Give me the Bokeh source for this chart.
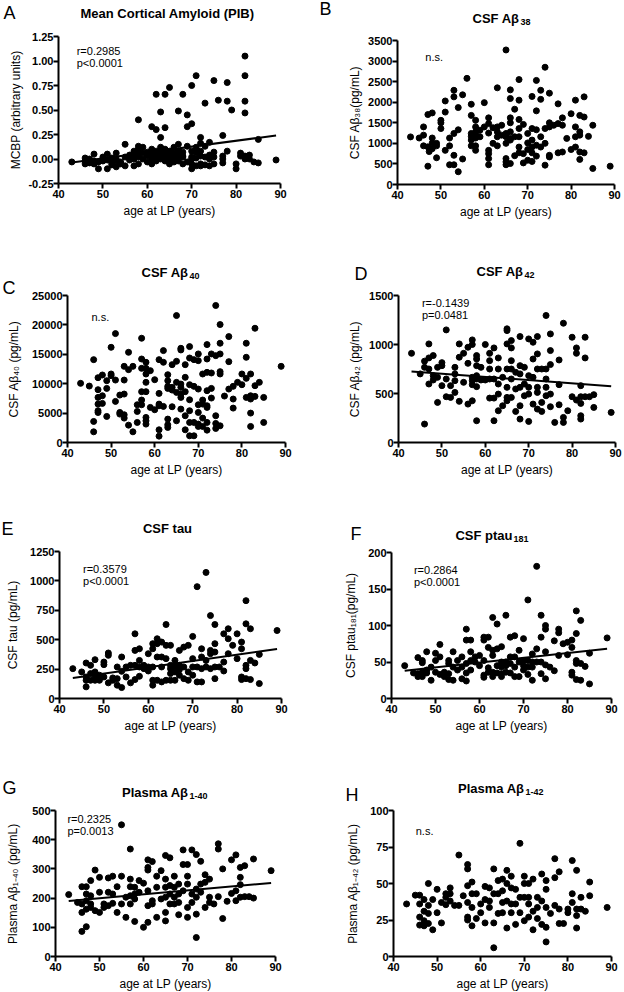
from bokeh.plotting import figure
from bokeh.layouts import column, row
from bokeh.models import Range1d, FixedTicker, NumeralTickFormatter, Label, LinearAxis
from bokeh.embed import file_html
from bokeh.resources import INLINE

FONT = "Liberation Sans"

x_ticks = [40, 50, 60, 70, 80, 90]

# ---------------- data (age at LP, value) ----------------
pib = [(82,1.05),(82,0.85),(82,0.59),(82,0.47),(71,0.85),(75,0.80),(70,0.75),(78,0.78),(65,0.73),(64,0.66),(62,0.66),(68,0.66),(76,0.60),(78,0.59),(73,0.57),(79,0.50),(67,0.49),(63,0.48),(69,0.45),(58,0.40),(70,0.36),(61,0.33),(62,0.30),(69,0.33),(64,0.32),(63,0.22),(77,0.24),(72,0.22),(85,0.20),(55,0.15),(58,0.13),(74,0.17),(67,0.15),
(43,-0.03),(46,-0.02),(46,-0.05),(46,0.01),(47,0.00),(47,-0.04),(47,-0.03),(48,0.05),(48,-0.02),(48,-0.05),(49,-0.10),(49,-0.03),(50,0.00),(50,-0.02),(50,0.02),(51,0.05),(51,-0.10),(51,-0.01),(52,-0.04),(52,0.01),(52,-0.06),(53,0.06),(53,-0.02),(53,-0.08),(53,0.00),(54,-0.03),(54,-0.05),(55,0.02),(55,-0.07),(56,0.04),(56,-0.01),(57,0.03),(57,0.08),(57,-0.07),(57,0.00),(58,0.10),(58,0.05),(58,-0.05),(58,0.02),(59,0.12),(59,0.06),(59,0.00),(60,0.03),(60,-0.03),(60,0.07),(61,0.05),(61,-0.05),(61,0.10),(61,0.00),(62,0.06),(62,0.02),(62,-0.02),(62,0.08),(63,0.12),(63,0.00),(63,0.04),(63,0.07),(64,0.10),(64,-0.02),(64,0.03),(64,0.06),(65,0.02),(65,-0.05),(65,0.08),(65,0.00),(65,0.05),(66,0.12),(66,-0.03),(66,0.01),(66,0.06),(67,0.04),(67,-0.02),(67,0.08),(67,0.00),(68,0.07),(68,-0.05),(68,0.02),(68,0.03),(69,0.13),(69,-0.03),(70,0.08),(70,-0.10),(70,0.02),(70,-0.05),(70,0.00),(71,0.07),(71,-0.07),(71,0.12),(71,0.01),(72,0.16),(72,-0.05),(72,0.08),(72,0.03),(72,-0.07),(73,-0.06),(73,0.02),(73,0.13),(74,-0.07),(74,0.04),(74,0.00),(75,-0.05),(75,0.07),(75,0.02),(77,-0.04),(77,0.03),(77,0.00),(78,0.08),(80,-0.05),(80,-0.10),(81,0.03),(81,0.06),(82,0.00),(82,0.02),(82,0.03),(83,0.04),(83,0.00),(84,-0.03),(85,-0.04),(89,-0.01)]

ab38 = [(43,1157),(45,1130),(46,1400),(46,1200),(46,940),(47,1700),(47,445),(47,915),(47.3,800),(48,1010),(48,1740),(48,1130),(48,870),(49,1000),(49,650),(49,940),(50,1560),(50,1360),(50,1500),(51,2030),(51,1760),(51,830),(52,1130),(52,480),(52,940),(53,2290),(53,2130),(53,1240),(53,710),(53,480),(54,1870),(54,1330),(54,310),(55,2180),(55,620),(56,2580),(57,1950),(57,1680),(57,1240),(57,1170),(57,1080),(57,940),(58,1560),(58,1400),(58,1280),(58,1130),(58,940),(58,830),(58,1210),(59,1320),(59,1160),(60,1990),(60,1400),(61,1620),(61,1480),(61,830),(61,630),(61,480),(61,1250),(61,750),(62,1380),(62,1000),(63,2350),(63,1160),(63,940),(63,1280),(63,1400),(64,1440),(64,1200),(65,3270),(65,1240),(65,1160),(65,630),(65,480),(65,550),(65,1000),(66,2300),(66,2090),(66,1620),(66,1500),(66,1280),(66,1120),(66,510),(66,1080),(67,1830),(67,1160),(67,700),(68,2550),(68,2050),(68,1580),(68,1360),(68,1160),(68,910),(68,770),(69,1460),(69,750),(69,525),(70,1240),(70,1010),(70,850),(70,590),(71,2140),(71,1360),(71,1080),(71,910),(71,770),(71,560),(72,2530),(72,1790),(72,1330),(72,955),(72,690),(73,2290),(73,2070),(73,1160),(73,910),(74,2850),(74,1360),(74,1000),(74,470),(75,2220),(75,1500),(75,1400),(75,710),(75,670),(76,1440),(77,1960),(77,1480),(77,770),(78,1620),(78,1440),(78,790),(79,1120),(80,1720),(80,850),(81,2050),(81,1400),(81,1160),(81,910),(82,1680),(82,1280),(82,1200),(82,610),(82,790),(83,2130),(83,1640),(83,770),(84,1170),(85,1440),(85,390),(89,445)]

ab40 = [(43,10060),(45,9600),(46,14090),(46,3580),(46,1820),(47,8980),(47,7670),(47,6530),(47,5400),(47,5100),(47,11020),(48,11480),(48,7950),(48,6650),(49,10510),(49,9200),(49,4430),(50,16190),(50,11650),(50,11360),(51,18520),(51,10620),(51,6990),(52,8070),(52,5110),(52,4830),(53,12950),(53,10620),(53,8240),(53,4720),(53,4150),(54,15340),(54,12390),(54,2950),(55,12950),(55,1820),(56,6420),(56,5280),(56,3410),(57,17730),(57,14200),(57,12610),(57,8640),(57,7220),(57,6420),(58,13640),(58,12610),(58,11650),(58,10230),(58,8640),(58,4260),(58,3690),(58,3130),(59,12220),(59,5970),(60,10680),(60,5570),(61,14090),(61,8350),(61,6530),(61,6250),(61,2160),(61,1080),(62,15630),(62,13640),(62,6140),(63,11530),(63,10510),(63,9550),(63,9200),(63,3980),(63,3010),(63,2560),(64,13240),(64,9380),(64,8920),(64,6080),(65,21590),(65,13810),(65,10230),(65,8520),(65,3690),(66,16020),(66,15740),(66,9940),(66,9380),(66,8240),(66,7670),(66,5680),(67,13240),(67,11080),(67,8640),(67,4550),(67,2160),(68,16310),(68,14370),(68,9830),(68,7270),(68,5400),(68,3410),(68,1140),(69,14090),(69,9550),(69,3410),(69,1140),(70,15060),(70,13920),(70,9090),(70,6420),(70,5110),(70,3130),(70,2730),(71,11650),(71,7220),(71,6530),(71,4150),(71,2730),(72,16650),(72,14200),(72,11930),(72,8810),(72,6250),(72,5970),(72,3410),(72,2100),(73,15060),(73,11820),(73,9200),(73,7560),(74,23300),(74,14770),(74,4550),(74,3240),(74,2390),(75,20060),(75,16880),(75,15060),(75,12050),(75,11650),(75,2840),(76,7900),(77,18010),(77,13750),(77,9090),(78,9550),(78,7390),(78,5850),(79,10230),(80,11650),(80,9830),(81,16880),(81,14490),(81,10910),(81,7670),(82,11650),(82,7950),(82,7390),(82,5000),(82,2730),(83,19430),(83,9660),(83,7840),(84,10230),(85,7670),(85,3410),(89,12950)]

ab42 = [(43,910),(45,700),(46,830),(46,767),(46,188),(47,1006),(47,863),(47,750),(47,597),(48,887),(48,682),(48,638),(49,767),(49,409),(49,665),(50,815),(50,784),(50,580),(51,1149),(51,648),(51,467),(52,580),(52,460),(53,767),(53,700),(53,631),(53,511),(54,1006),(54,870),(54,420),(55,910),(55,614),(56,972),(56,808),(56,392),(57,1047),(57,1000),(57,665),(57,631),(57,590),(57,426),(58,887),(58,852),(58,784),(58,682),(58,648),(58,570),(58,222),(59,767),(59,638),(60,1000),(60,638),(61,910),(61,835),(61,750),(61,648),(61,453),(62,965),(62,648),(62,453),(62,222),(63,863),(63,750),(63,597),(63,494),(63,324),(64,665),(64,375),(65,1160),(65,1142),(65,1006),(65,750),(65,563),(65,460),(65,426),(66,1040),(66,965),(66,835),(66,750),(66,460),(66,648),(67,716),(67,546),(67,317),(68,1081),(68,784),(68,700),(68,563),(68,375),(68,239),(69,767),(69,597),(69,477),(70,1057),(70,682),(70,563),(70,494),(70,215),(71,1023),(71,852),(71,665),(71,392),(72,1081),(72,904),(72,750),(72,563),(72,511),(72,341),(73,750),(73,409),(73,317),(74,1296),(74,750),(74,648),(74,563),(74,477),(75,1108),(75,938),(75,795),(75,494),(75,365),(76,205),(77,842),(77,590),(77,385),(78,1217),(78,256),(78,205),(79,324),(80,1074),(80,467),(81,965),(81,910),(81,433),(82,580),(82,399),(82,273),(82,239),(82,467),(83,1074),(83,863),(83,467),(84,467),(85,488),(85,358),(89,307)]

tau = [(43,254),(45,226),(46,302),(46,183),(46,99),(46,155),(47,282),(47,212),(47,155),(48,330),(48,226),(48,183),(48,155),(49,155),(49,198),(50,310),(50,288),(50,183),(51,387),(51,367),(51,133),(52,175),(52,155),(53,268),(53,169),(53,113),(54,353),(54,231),(54,93),(55,268),(55,183),(56,282),(56,133),(57,550),(57,409),(57,282),(57,161),(58,423),(58,324),(58,268),(58,189),(59,282),(59,254),(60,381),(60,268),(60,234),(61,466),(61,423),(61,268),(61,155),(61,113),(62,508),(62,466),(62,353),(62,155),(63,480),(63,353),(63,268),(63,141),(64,629),(64,452),(64,339),(64,155),(65,452),(65,282),(65,212),(65,155),(65,254),(66,324),(66,274),(66,226),(66,155),(67,409),(67,282),(67,245),(67,198),(68,437),(68,268),(68,169),(69,452),(69,226),(69,155),(70,528),(70,339),(70,268),(70,198),(71,951),(71,268),(71,141),(72,423),(72,353),(72,254),(72,141),(73,1072),(73,324),(73,268),(74,705),(74,409),(74,381),(74,254),(75,629),(75,466),(75,395),(75,169),(75,268),(76,268),(77,550),(77,310),(77,234),(78,593),(78,381),(78,508),(79,452),(80,550),(80,339),(81,480),(81,423),(81,183),(81,161),(82,832),(82,635),(82,282),(82,254),(82,169),(83,593),(83,324),(83,161),(84,302),(85,375),(85,127),(89,578)]

ptau = [(43,45),(45,35),(46,56),(46,30),(46,34),(47,52),(47,49),(47,30),(47,36),(48,64),(48,39),(48,35),(49,43),(49,25),(50,62),(50,52),(50,36),(51,74),(51,57),(51,33),(52,36),(52,30),(53,52),(53,48),(53,34),(53,26),(54,64),(54,43),(54,25),(55,52),(55,39),(56,57),(56,43),(56,27),(57,95),(57,80),(57,48),(57,35),(57,24),(58,80),(58,64),(58,52),(58,39),(59,57),(59,50),(60,59),(60,45),(61,84),(61,80),(61,52),(61,32),(61,29),(62,84),(62,70),(62,42),(62,36),(63,111),(63,66),(63,59),(63,36),(63,30),(64,102),(64,68),(64,45),(64,35),(65,71),(65,50),(65,43),(65,34),(65,30),(66,114),(66,50),(66,45),(66,36),(67,84),(67,57),(67,48),(67,35),(68,86),(68,57),(68,43),(68,30),(69,66),(69,50),(69,30),(70,82),(70,52),(70,45),(70,39),(71,135),(71,52),(71,43),(71,33),(72,61),(72,50),(72,43),(72,25),(73,181),(73,68),(73,50),(74,114),(74,84),(74,50),(74,34),(75,100),(75,95),(75,64),(75,46),(75,27),(76,43),(77,79),(77,38),(78,95),(78,90),(78,59),(79,75),(80,77),(80,60),(81,80),(81,70),(81,36),(81,32),(82,120),(82,89),(82,52),(82,48),(82,26),(83,107),(83,48),(83,25),(84,44),(85,62),(85,20),(89,83)]

pab40 = [(43,212),(45,185),(46,151),(46,86),(46,239),(46,180),(47,239),(47,214),(47,191),(47,162),(47,102),(48,260),(48,208),(48,180),(48,168),(49,296),(49,157),(50,271),(50,220),(50,151),(51,180),(51,168),(52,269),(52,220),(52,174),(53,275),(53,214),(53,182),(54,239),(54,151),(55,451),(55,275),(55,180),(56,134),(56,203),(57,368),(57,265),(57,239),(57,208),(57,180),(58,237),(58,197),(58,120),(58,214),(59,260),(59,220),(60,251),(60,100),(61,331),(61,305),(61,296),(61,225),(61,174),(61,117),(62,325),(62,191),(62,180),(63,275),(63,237),(63,134),(64,294),(64,197),(65,346),(65,265),(65,237),(65,151),(65,122),(65,203),(66,338),(66,243),(66,214),(66,180),(67,275),(67,237),(67,203),(67,180),(68,248),(68,214),(68,185),(68,143),(69,365),(69,315),(69,225),(70,315),(70,275),(70,248),(70,168),(70,134),(71,365),(71,214),(71,185),(72,349),(72,231),(72,145),(72,65),(72,203),(73,326),(73,248),(73,220),(74,280),(74,254),(74,168),(75,265),(75,203),(75,185),(76,180),(77,386),(77,368),(77,205),(78,300),(78,130),(79,189),(80,331),(80,216),(81,348),(81,225),(81,191),(82,305),(82,271),(82,246),(82,203),(83,311),(83,205),(84,205),(85,334),(85,200),(89,294)]

pab42 = [(43,36),(45,42),(46,42),(46,36),(46,27),(46,21.5),(47,39),(47,31),(47,24.5),(47,21),(48,50),(48,35),(48,29.5),(48,22.6),(49,39),(49,18.3),(50,46),(50,30),(51,37),(51,23),(52,43),(52,40.5),(52,35.5),(53,47),(53,43),(53,38),(54,35),(55,69.5),(55,35),(56,41.6),(57,63),(57,60),(57,48.5),(57,37),(57,27),(57,25),(58,51),(58,43),(58,33.6),(58,21),(59,43),(59,26),(60,30),(60,36),(61,48),(61,39),(61,23),(62,47),(62,38),(62,33.6),(63,60),(63,43),(63,23),(63,6),(64,52),(64,43),(64,29.5),(65,53),(65,45),(65,37),(65,30),(66,59),(66,50),(66,38),(66,19.5),(67,55),(67,47),(67,36),(67,30),(68,46),(68,36),(68,22),(69,77.5),(69,40.5),(69,30),(70,55),(70,50),(70,40.5),(70,24.5),(71,50),(71,40.5),(71,36),(71,27),(72,53),(72,31),(72,18.3),(73,40.5),(73,33.6),(73,26),(74,56.5),(74,38),(74,22),(75,52),(75,46),(75,33.6),(75,20),(75,10),(76,29.5),(77,67),(77,54),(77,35),(78,58),(78,32.5),(78,22.6),(79,22.6),(80,30),(80,32.5),(81,65.7),(81,43),(81,37),(82,59),(82,32.5),(82,28),(82,19.5),(83,40.5),(83,32.5),(84,31),(85,51),(85,41.6),(89,33.6)]

# regression lines (end points)
fit_age = [43, 89]
pib_fit = [-0.035, 0.24]
ab42_fit = [725, 575]
tau_fit = [175, 420]
ptau_fit = [38, 68]
pab40_fit = [190, 252]

# y-axis ticks
pib_ticks = [-0.25, 0, 0.25, 0.5, 0.75, 1.0, 1.25]
ab38_ticks = [0, 500, 1000, 1500, 2000, 2500, 3000, 3500]
ab40_ticks = [0, 5000, 10000, 15000, 20000, 25000]
ab42_ticks = [0, 500, 1000, 1500]
tau_ticks = [0, 250, 500, 750, 1000, 1250]
ptau_ticks = [0, 50, 100, 150, 200]
pab40_ticks = [0, 100, 200, 300, 400, 500]
pab42_ticks = [0, 25, 50, 75, 100]


def style_axis(ax, label_standoff, axis_label_standoff):
    ax.axis_line_width = 2
    ax.axis_line_color = "black"
    ax.major_tick_line_width = 2
    ax.major_tick_line_color = "black"
    ax.major_tick_in = 0
    ax.major_tick_out = 5
    ax.minor_tick_line_color = None
    ax.major_label_text_font = FONT
    ax.major_label_text_font_size = "11px"
    ax.major_label_text_font_style = "bold"
    ax.major_label_text_color = "black"
    ax.major_label_standoff = label_standoff
    ax.axis_label_text_font = FONT
    ax.axis_label_text_font_size = "12px"
    ax.axis_label_text_font_style = "normal"
    ax.axis_label_text_color = "black"
    ax.axis_label_standoff = axis_label_standoff


def make_panel(pts, yticks, ylabel, origin, size, frame, letter, letter_pos,
               title, title_pos, sub=None, stats=None, fit=None, yfmt=None,
               ylab_off=0, xlab_off=3):
    # origin/frame given in page pixels; the whole canvas is the plotting frame,
    # axes are pinned (fixed_location) so that ticks/labels lie inside the canvas
    ox, oy = origin
    w, h = size
    fx0, fy0, fx1, fy1 = frame
    ybot, ytop = yticks[0], yticks[-1]
    ppx = (fx1 - fx0) / (x_ticks[-1] - x_ticks[0])
    ppy = (fy1 - fy0) / (ytop - ybot)
    xr = Range1d(x_ticks[0] - (fx0 - ox) / ppx, x_ticks[-1] + (ox + w - fx1) / ppx)
    yr = Range1d(ybot - (oy + h - fy1) / ppy, ytop + (fy0 - oy) / ppy)
    p = figure(width=w, height=h, output_backend="svg", toolbar_location=None,
               x_range=xr, y_range=yr, x_axis_type=None, y_axis_type=None, title=None,
               min_border_left=0, min_border_right=0, min_border_top=0, min_border_bottom=0)
    p.outline_line_color = None
    p.background_fill_color = "white"
    p.border_fill_color = "white"

    xax = LinearAxis(fixed_location=ybot, bounds=(x_ticks[0], x_ticks[-1]),
                     ticker=FixedTicker(ticks=x_ticks), axis_label="age at LP (years)")
    yax = LinearAxis(fixed_location=x_ticks[0], bounds=(ybot, ytop),
                     ticker=FixedTicker(ticks=yticks), axis_label=ylabel)
    if yfmt:
        yax.formatter = NumeralTickFormatter(format=yfmt)
    style_axis(xax, 1, xlab_off)
    style_axis(yax, 0, ylab_off)
    p.add_layout(xax, "below")
    p.add_layout(yax, "left")

    xs = [a for a, v in pts]
    ys = [v for a, v in pts]
    p.scatter(xs, ys, size=6, color="black")
    if fit is not None:
        p.line(fit_age, fit, line_width=2, color="black")

    def dat(px, py):
        return x_ticks[0] + (px - fx0) / ppx, ybot + (fy1 - py) / ppy

    lx, ly = dat(*letter_pos)
    p.add_layout(Label(x=lx, y=ly, text=letter, text_font=FONT, text_font_size="18px",
                       text_align="left", text_baseline="middle", text_color="black"))
    tx, ty = dat(*title_pos)
    if sub is None:
        p.add_layout(Label(x=tx, y=ty, text=title, text_font=FONT, text_font_size="13px",
                           text_font_style="bold", text_align="center",
                           text_baseline="middle", text_color="black"))
    else:
        p.add_layout(Label(x=tx, y=ty, text=title, text_font=FONT, text_font_size="13px",
                           text_font_style="bold", text_align="right",
                           text_baseline="middle", text_color="black"))
        sx_, sy_ = dat(title_pos[0] + 1, title_pos[1] + 3)
        p.add_layout(Label(x=sx_, y=sy_, text=sub, text_font=FONT, text_font_size="9px",
                           text_font_style="bold", text_align="left",
                           text_baseline="middle", text_color="black"))
    if stats is not None:
        sx, sy, lines, dy = stats
        for i, t in enumerate(lines):
            p.add_layout(Label(x=sx, y=sy - i * dy, text=t, text_font=FONT,
                               text_font_size="11px", text_align="left",
                               text_baseline="middle", text_color="black"))
    return p


pA = make_panel(pib, pib_ticks, "MCBP (arbitrary units)", (0, 0), (312, 240), (58, 36, 280, 183),
                "A", (3, 12), "Mean Cortical Amyloid (PIB)", (167, 13),
                stats=(44.1, 1.107, ["r=0.2985", "p<0.0001"], 0.125), fit=pib_fit, yfmt="0.00",
                ylab_off=2)
pB = make_panel(ab38, ab38_ticks, "CSF Aβ₃₈(pg/mL)", (312, 0), (312, 240), (397, 40, 614, 184),
                "B", (319, 8), "CSF Aβ", (519, 18), sub="38",
                stats=(46.4, 3096, ["n.s."], 0), ylab_off=3)
pC = make_panel(ab40, ab40_ticks, "CSF Aβ₄₀ (pg/mL)", (0, 240), (312, 243), (67, 295, 285, 442),
                "C", (2, 287), "CSF Aβ", (188, 272), sub="40",
                stats=(45.5, 21300, ["n.s."], 0), ylab_off=8)
pD = make_panel(ab42, ab42_ticks, "CSF Aβ₄₂ (pg/mL)", (312, 240), (312, 243), (398, 295, 615, 442),
                "D", (354, 273), "CSF Aβ", (523, 271), sub="42",
                stats=(45.4, 1422, ["r=-0.1439", "p=0.0481"], 116), fit=ab42_fit, ylab_off=4)
pE = make_panel(tau, tau_ticks, "CSF tau (pg/mL)", (0, 483), (312, 256), (59, 551, 281, 698),
                "E", (1, 528), "CSF tau", (167, 528),
                stats=(45.3, 1100, ["r=0.3579", "p<0.0001"], 98), fit=tau_fit, ylab_off=7)
pF = make_panel(ptau, ptau_ticks, "CSF ptau₁₈₁(pg/mL)", (312, 483), (312, 256), (391, 552, 611, 698),
                "F", (350, 533), "CSF ptau", (512, 535), sub="181",
                stats=(45.1, 176, ["r=0.2864", "p<0.0001"], 16), fit=ptau_fit, ylab_off=7)
pG = make_panel(pab40, pab40_ticks, "Plasma Aβ₁₋₄₀ (pg/mL)", (0, 739), (312, 253), (55, 810, 275, 956),
                "G", (2, 787), "Plasma Aβ", (188, 792), sub="1-40",
                stats=(42.7, 471, ["r=0.2325", "p=0.0013"], 40), fit=pab40_fit, ylab_off=9)
pH = make_panel(pab42, pab42_ticks, "Plasma Aβ₁₋₄₂ (pg/mL)", (312, 739), (312, 253), (393, 810, 611, 956),
                "H", (345, 794), "Plasma Aβ", (524, 788), sub="1-42",
                stats=(45.1, 86, ["n.s."], 0), ylab_off=7)

layout = column(row(pA, pB, spacing=0), row(pC, pD, spacing=0),
                row(pE, pF, spacing=0), row(pG, pH, spacing=0), spacing=0)

open("out.html", "w").write(file_html(layout, INLINE))
